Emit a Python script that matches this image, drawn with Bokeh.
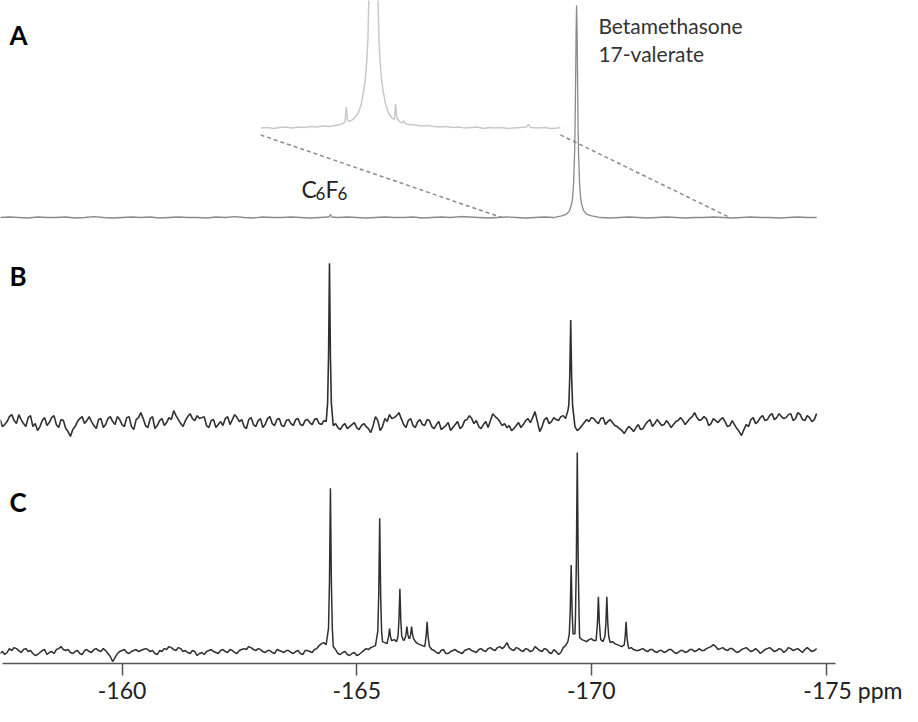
import numpy as np
from bokeh.plotting import figure
from bokeh.models import Range1d, Label, FixedTicker
from bokeh.embed import file_html
from bokeh.resources import INLINE

# ---------------- data ----------------
tick_ppm = [-160, -165, -170, -175]
tick_text = ["-160", "-165", "-170", "-175"]
unit_text = "ppm"

GRID_START = -157.4          # ppm of first noise sample
BC_STEP = 0.1                # ppm between noise samples (B, C)
A_STEP = 0.2                 # ppm between noise samples (A)

# panel B baseline noise (intensity units) on the grid ...
B_noise = [3, -2, 6, 2, 8, -1, 5, -4, -8, 2,
           -3, 5, -2, 3, -6, -14, -4, 4, -1, 6,
           -3, 3, -5, 4, 1, 6, -2, 5, -4, 3,
           10, -3, 4, -6, 2, -3, 5, 12, 3, -4,
           6, 4, 7, 5, -3, 2, -5, 1, 4, -2,
           8, 1, -4, 3, -2, 2, -5, 4, -1, 3,
           -3, 2, -1, 3, -2, 2, 0, 3, -1, 2,
           4, -3, -5, -3, -6, -2, -5, -3, -4, -10,
           6, -8, 4, 8, 5, 10, -2, 2, -3, 1,
           -2, 3, -4, -2, -7, -3, -8, -2, -6, 2,
           7, -1, -4, -2, -5, 9, 4, -3, -5, -8,
           -3, -5, 2, 0, 11, -9, 3, -1, 5, 2,
           7, 12, -6, -8, -3, 3, 5, 1, 4, -2,
           3, -3, -6, -11, -4, -9, -2, -6, 1, -4,
           3, -3, 2, -5, 1, 5, -2, 4, 10, 2,
           6, -3, 4, 0, 5, -4, 2, -6, -13, -2,
           3, -1, 5, 2, 7, 3, 9, 4, 8, 2,
           10, 3, 7, 1, 9]
# ... and half-way between grid samples
B_noise_mid = [-4, 1, 8, -1, 3, -4, 7, -1, -4, 5,
               0, 7, -5, 2, -9, -7, 1, 6, 2, 1,
               -6, 4, -2, 6, -2, 3, -4, 6, -7, 5,
               4, -5, 6, -3, 4, 0, 3, 7, -1, 2,
               9, 2, 4, 6, -5, 3, -2, -3, 6, 3,
               5, 3, -6, 5, -4, 4, -2, 6, -3, 4,
               -4, 3, -3, 4, -3, 3, -2, 4, -2, 1,
               2, -1, -7, -1, -4, 0, -7, -1, -6, -3,
               2, -4, 1, 4, 7, 4, -5, 4, -5, 3,
               -3, 2, -6, 1, -5, 0, -5, 1, -4, 3,
               4, 2, -6, 1, 2, 6, 1, -1, -3, -6,
               0, -2, 4, 5, 1, -4, 5, 1, 3, 6,
               4, 0, -4, -6, 0, 1, 4, -1, 5, 1,
               0, -4, -8, -7, -6, -5, -7, -2, 3, -1,
               0, -2, -1, -2, 2, 2, 1, 6, 5, 3,
               4, -1, 2, 3, 1, -3, -2, -9, -7, -4,
               5, 1, 7, 3, 9, 5, 6, 5, 9, 4,
               8, 2, 5, 3]
B_peak_ppm = [-164.42, -169.56]
B_peak_height = [160, 103]
B_peak_foot = [4, 8]

# panel C baseline noise on the grid and half-way between
C_noise = [-2, -3, 3, 4, 1, 2, 0, -2, -3, 1,
           -3, 0, 2, 5, 1, -1, 0, -2, 1, 0,
           2, 1, 3, -2, -10, -2, 1, -1, 0, 2,
           1, 3, 0, -2, 1, 3, 5, 2, 4, 0,
           -1, 1, -4, -1, 0, 2, -1, 1, 0, 2,
           -1, 1, 3, 5, 2, 3, 0, 1, -1, 2,
           0, 1, -1, 0, -2, 1, 0, 2, 6, 9,
           8, 5, -2, -1, -3, -2, -4, -1, 3, 4,
           6, 8, 9, 10, 12, 10, 11, 13, 12, 8,
           6, 7, 2, -1, 1, -2, 0, 2, -1, 1,
           3, 0, 2, 1, 3, 2, 4, 3, 9, 2,
           4, 1, 3, 0, 5, 1, 3, -1, 2, -3,
           4, 10, 20, 15, 12, 10, 13, 11, 12, 11,
           9, 8, 6, 4, 3, 2, 1, 3, 0, 2,
           -1, 1, 0, 2, -2, 1, -1, 2, 0, 3,
           1, 4, 7, 2, 4, 1, 3, -1, 2, 4,
           0, 3, -2, 2, 4, 0, 3, -1, 4, 1,
           3, -1, 4, 0, 3]
C_noise_mid = [0, -1, 1, 3, -1, 3, 1, -4, -1, 2,
               -1, -2, 3, 2, 2, -2, 1, -3, 2, -1,
               3, 0, 1, -5, -6, 0, 2, -2, 1, 0,
               2, 2, 1, -3, 0, 2, 4, 1, 3, 1,
               -2, 0, -2, -3, 1, 0, -2, 2, -1, 1,
               -2, 2, 2, 4, 1, 2, -1, 1, -2, 1,
               -1, 1, -2, 1, -3, 1, -1, 3, 8, 7,
               7, 2, -3, 0, -4, -1, -3, 1, 2, 5,
               5, 10, 8, 11, 10, 12, 10, 14, 10, 7,
               5, 5, 1, -2, 2, -2, 1, 0, -2, 2,
               1, -1, 3, 0, 4, 1, 5, 5, 4, 1,
               3, 0, 2, 1, 3, 0, 2, -2, 0, -1,
               6, 12, 18, 14, 11, 12, 11, 12, 10, 10,
               10, 7, 5, 3, 4, 1, 2, 1, 2, 0,
               1, -1, 2, 0, -1, 1, 0, 2, 1, 1,
               3, 5, 5, 3, 2, 3, 1, 0, 3, 2,
               1, 1, 0, 3, 2, 1, 2, 1, 3, 2,
               1, 2, 2, 1]
C_peak_ppm = [-164.44, -165.49, -165.70, -165.92, -166.07, -166.17, -166.50,
              -169.57, -169.70, -170.15, -170.33, -170.74]
C_peak_height = [164, 134, 23, 63, 25, 25, 30, 87, 200, 55, 55, 30]
C_peak_foot = [8, 8, 10, 10, 12, 12, 6, 10, 14, 12, 11, 4]

# spike line shape (offset in ppm, fraction of height above foot)
SPIKE_DX = [-0.04, -0.02, 0.0, 0.02, 0.04]
SPIKE_FRAC = [0.1, 0.4, 1.0, 0.4, 0.1]

# panel A: nearly flat baseline, tiny C6F6 signal and the large peak
A_noise = [0, 0.5, 0, -0.5, 0.5, 0, 0, 0.5, -0.5, 0,
           1, 0, -0.5, 0, 0.5, 0, 0.5, -0.5, 0, 0.5,
           0, 0, -0.5, 0.5, 0, 1, 0, -0.5, 0.5, 0,
           0, 0.5, 0, -0.5, 0, 0.5, 0, 0.5, 0, -0.5,
           0, 0.5, 0, 0, 0.5, -0.5, 0, 0.5, 0, 1,
           0.5, 0, -0.5, 0, 0.5, 0, -0.5, 0, 0.5, 0,
           0, -0.5, 0.5, 0, 0, -0.5, 0, 0.5, 0, -0.5,
           0, 0.5, 0, -0.5, 0, 0, 0.5, 0, -0.5, 0,
           0.5, 0, 0, -0.5, 0, 0.5, 0, 0]
A_c6f6_ppm = [-164.41, -164.44, -164.47]
A_c6f6_int = [0.5, 3, 0.5]
A_peak_ppm = [-169.365, -169.472, -169.536, -169.578, -169.600, -169.621, -169.642,
              -169.653, -169.664, -169.675, -169.685, -169.696, -169.707, -169.717,
              -169.728, -169.749, -169.770, -169.792, -169.834, -169.898, -170.005]
A_peak_int = [1.6, 3.5, 7, 13.5, 20, 34, 63, 91, 134, 186, 213, 186, 134, 91,
              63, 34, 20, 13.5, 7, 3.5, 1.6]

# expanded view (inset) of panel A, in ppm of the zoomed region
inset_ppm = [-168.10, -168.20, -168.30, -168.40, -168.50, -168.60, -168.70, -168.80,
             -168.90, -169.00, -169.10, -169.20, -169.30,
             -169.38, -169.43, -169.46, -169.48, -169.50, -169.53, -169.59, -169.67,
             -169.72, -169.76, -169.79, -169.81, -169.83, -169.85, np.nan,
             -169.99, -170.01, -170.03, -170.05, -170.08, -170.12, -170.17, -170.22,
             -170.26, -170.28, -170.30, -170.34, -170.38, -170.41, -170.44, -170.50,
             -170.60, -170.70, -170.80, -170.90, -171.00, -171.10, -171.20, -171.30,
             -171.40, -171.50, -171.60, -171.70, -171.80, -171.90, -172.00, -172.10,
             -172.20, -172.30, -172.40, -172.43, -172.47, -172.60, -172.70, -172.80,
             -172.90, -172.95]
inset_int = [0, 0.5, -0.5, 0.5, 1, 0, 1, 0.5,
             1.5, 1, 2, 1.5, 2.5,
             3.5, 4.5, 6, 21, 8, 6.5, 8.5, 14.5,
             23, 36, 50, 65, 88, 140, np.nan,
             140, 88, 65, 50, 36, 23, 14.5, 10,
             8.5, 24, 10, 6.5, 5, 7, 4.5, 3.5,
             3, 2, 2.5, 1.5, 1, 1.5, 0.5, 1,
             0, 0.5, 1, -0.5, 0.5, 0, 0.5, -0.5,
             0, 0.5, 1, 3.5, 0.5, 0, 0.5, -0.5,
             0, 0.5]

# ---------------- layout constants ----------------
A_BASE, B_BASE, C_BASE = 452, 246, 16
INSET_BASE = 542
INSET_X0, INSET_X1 = -162.95, -169.34       # where the inset is drawn
ZOOM_FROM, ZOOM_TO = -168.09, -172.95       # region that the inset expands
DASH_TOP = 535
Y0 = 4


def spikes(ppm, height, foot):
    xs, ys = [], []
    for c, h, f in zip(ppm, height, foot):
        for dx, fr in zip(SPIKE_DX, SPIKE_FRAC):
            xs.append(c + dx)
            ys.append(f + fr * (h - f))
    return xs, ys


def trace(noise, noise_mid, step, px, py, centers, gaps):
    gx = GRID_START - step * np.arange(len(noise))
    gy = np.asarray(noise, dtype=float)
    if noise_mid:
        mx = GRID_START - step * (np.arange(len(noise_mid)) + 0.5)
        gx = np.concatenate([gx, mx])
        gy = np.concatenate([gy, np.asarray(noise_mid, dtype=float)])
    keep = np.ones(len(gx), dtype=bool)
    for c, g in zip(centers, gaps):
        keep &= np.abs(gx - c) > g
    x = np.concatenate([gx[keep], np.asarray(px, float)])
    y = np.concatenate([gy[keep], np.asarray(py, float)])
    order = np.argsort(-x)
    return x[order], y[order]


bx, by = spikes(B_peak_ppm, B_peak_height, B_peak_foot)
Bx, By = trace(B_noise, B_noise_mid, BC_STEP, bx, by, B_peak_ppm, [0.045] * len(B_peak_ppm))
cx, cy = spikes(C_peak_ppm, C_peak_height, C_peak_foot)
Cx, Cy = trace(C_noise, C_noise_mid, BC_STEP, cx, cy, C_peak_ppm, [0.045] * len(C_peak_ppm))
Ax, Ay = trace(A_noise, None, A_STEP, A_c6f6_ppm + A_peak_ppm, A_c6f6_int + A_peak_int,
               [-169.685, -164.44], [0.33, 0.035])

ins_x = INSET_X0 + (np.asarray(inset_ppm) - ZOOM_FROM) / (ZOOM_TO - ZOOM_FROM) * (INSET_X1 - INSET_X0)
ins_y = INSET_BASE + np.asarray(inset_int, dtype=float)

# ---------------- figure ----------------
p = figure(width=902, height=706, output_backend="svg", toolbar_location=None,
           x_range=Range1d(-157.41, -176.63), y_range=Range1d(Y0, 670),
           y_axis_location=None, min_border_left=0, min_border_right=0,
           min_border_top=0, min_border_bottom=0)
p.xgrid.visible = False
p.ygrid.visible = False
p.outline_line_color = None
p.background_fill_color = "white"
p.border_fill_color = "white"

ax = p.xaxis[0]
ax.ticker = FixedTicker(ticks=tick_ppm)
labels = {t: s for t, s in zip(tick_ppm, tick_text)}
# the unit follows the last tick label; no-break spaces keep "-175" centred on its tick
labels[tick_ppm[-1]] = "\u00a0" * 12 + tick_text[-1] + "\u00a0" + unit_text
ax.major_label_overrides = labels
ax.bounds = (-175.2, -157.45)
ax.axis_line_color = "#555555"
ax.axis_line_width = 1.5
ax.major_tick_line_color = "#555555"
ax.major_tick_line_width = 1.5
ax.major_tick_out = 12
ax.major_tick_in = 0
ax.minor_tick_line_color = None
ax.major_label_text_font = "Lato"
ax.major_label_text_font_size = "23px"
ax.major_label_text_color = "#222222"
ax.major_label_standoff = 0

# traces
p.line(ins_x, ins_y, line_color="#c9c9c9", line_width=1.5)
p.segment(x0=[INSET_X0, INSET_X1], y0=[DASH_TOP, DASH_TOP],
          x1=[ZOOM_FROM, ZOOM_TO], y1=[A_BASE, A_BASE],
          line_color="#8c8c8c", line_width=1.5, line_dash="4 3")
p.line(Ax, A_BASE + Ay, line_color="#8a8a8a", line_width=1.3)
p.line(Bx, B_BASE + By, line_color="#303030", line_width=1.6)
p.line(Cx, C_BASE + Cy, line_color="#303030", line_width=1.5)

# texts
for letter, yb in (("A", 635), ("B", 393), ("C", 166)):
    p.add_layout(Label(x=9, y=yb, x_units="screen", y_units="data", text=letter,
                       text_font="Lato", text_font_style="bold", text_font_size="26px",
                       text_color="#000000", text_baseline="alphabetic"))

p.add_layout(Label(x=-170.15, y=645, text="Betamethasone", text_font="Lato",
                   text_font_size="21px", text_color="#333333", text_baseline="alphabetic"))
p.add_layout(Label(x=-170.15, y=617, text="17-valerate", text_font="Lato",
                   text_font_size="21px", text_color="#333333", text_baseline="alphabetic"))

for txt, sx, yb, fs in (("C", 301, 481, "23px"), ("6", 315, 476, "17px"),
                        ("F", 325, 481, "23px"), ("6", 337, 476, "17px")):
    p.add_layout(Label(x=sx, y=yb, x_units="screen", y_units="data", text=txt,
                       text_font="Lato", text_font_size=fs, text_color="#222222",
                       text_baseline="alphabetic"))

open("out.html", "w").write(file_html(p, INLINE))
